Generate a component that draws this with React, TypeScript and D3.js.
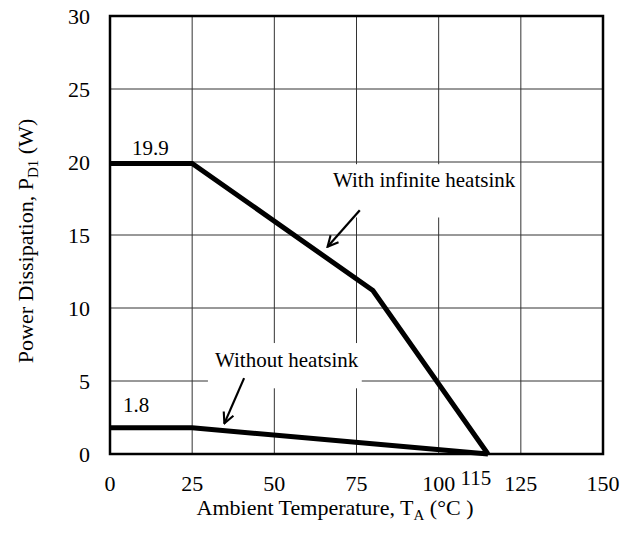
import React from "react";
import * as d3 from "d3";

const width = 635;
const height = 541;
const margin = { top: 16, right: 32, bottom: 87, left: 110 };

// curves (temperature in °C, power in W)
const infiniteTemp = [0, 25, 80, 115];
const infinitePower = [19.9, 19.9, 11.2, 0];
const noSinkTemp = [0, 25, 115];
const noSinkPower = [1.8, 1.8, 0];

const xTicks = [0, 25, 50, 75, 100, 125, 150];
const yTicks = [0, 5, 10, 15, 20, 25, 30];

const font = "Liberation Serif";

export default function App() {
  const x = d3
    .scaleLinear()
    .domain([0, 150])
    .range([margin.left, width - margin.right]);
  const y = d3
    .scaleLinear()
    .domain([0, 30])
    .range([height - margin.bottom, margin.top]);

  const line = d3
    .line<[number, number]>()
    .x(d => x(d[0]))
    .y(d => y(d[1]));

  const infinite = infiniteTemp.map((t, i) => [t, infinitePower[i]] as [number, number]);
  const noSink = noSinkTemp.map((t, i) => [t, noSinkPower[i]] as [number, number]);

  // white boxes behind the annotations (they hide the grid)
  const boxes = [
    { x0: 65.4, x1: 124.6, y0: 16.2, y1: 19.85 },
    { x0: 29.8, x1: 76.6, y0: 4.5, y1: 7.6 },
  ];
  const arrows = [
    { from: [76, 16.7], to: [66.2, 14.2] },
    { from: [40.8, 5.2], to: [34.8, 2.1] },
  ];

  const txt = { fontFamily: font, fill: "#000" };

  return (
    <svg
      width={width}
      height={height}
      style={{ position: "absolute", left: 0, top: 0, background: "#fff" }}
    >
      <defs>
        <marker
          id="arr"
          viewBox="0 0 10 10"
          refX="9"
          refY="5"
          markerWidth="6"
          markerHeight="6"
          orient="auto"
        >
          <path d="M1,1 L9,5 L1,9" fill="none" stroke="#000" strokeWidth="1.6" />
        </marker>
      </defs>

      {/* grid */}
      <g stroke="#333" strokeWidth={1}>
        {xTicks.slice(1, -1).map(t => (
          <line key={"x" + t} x1={x(t)} x2={x(t)} y1={y(30)} y2={y(0)} />
        ))}
        {yTicks.slice(1, -1).map(t => (
          <line key={"y" + t} x1={x(0)} x2={x(150)} y1={y(t)} y2={y(t)} />
        ))}
      </g>

      {boxes.map((b, i) => (
        <rect
          key={i}
          x={x(b.x0)}
          y={y(b.y1)}
          width={x(b.x1) - x(b.x0)}
          height={y(b.y0) - y(b.y1)}
          fill="#fff"
        />
      ))}

      {/* frame */}
      <rect
        x={x(0)}
        y={y(30)}
        width={x(150) - x(0)}
        height={y(0) - y(30)}
        fill="none"
        stroke="#000"
        strokeWidth={2.5}
      />

      {/* curves */}
      <path d={line(infinite) || ""} fill="none" stroke="#000" strokeWidth={5} />
      <path d={line(noSink) || ""} fill="none" stroke="#000" strokeWidth={5} />

      {/* arrows */}
      {arrows.map((a, i) => (
        <line
          key={i}
          x1={x(a.from[0])}
          y1={y(a.from[1])}
          x2={x(a.to[0])}
          y2={y(a.to[1])}
          stroke="#000"
          strokeWidth={2.2}
          markerEnd="url(#arr)"
        />
      ))}

      {/* annotations */}
      <g style={{ ...txt, fontSize: 21 }}>
        <text x={333} y={187}>With infinite heatsink</text>
        <text x={215} y={367}>Without heatsink</text>
        <text x={132} y={155}>19.9</text>
        <text x={123} y={412}>1.8</text>
      </g>

      {/* y tick labels */}
      <g style={{ ...txt, fontSize: 22 }} textAnchor="end">
        {yTicks.map(t => (
          <text key={t} x={90} y={y(t)} dy="0.35em">
            {t}
          </text>
        ))}
      </g>

      {/* x tick labels */}
      <g style={{ ...txt, fontSize: 22 }} textAnchor="middle">
        {xTicks.map(t => (
          <text key={t} x={x(t)} y={491}>
            {t}
          </text>
        ))}
        <text x={x(115) - 12} y={485} style={{ fontSize: 21 }}>
          115
        </text>
      </g>

      {/* axis titles */}
      <text x={335} y={515} style={{ ...txt, fontSize: 22 }} textAnchor="middle">
        Ambient Temperature, T
        <tspan style={{ fontSize: 15 }} dy={5}>A</tspan>
        <tspan dy={-5}> (°C )</tspan>
      </text>
      <text
        transform={`translate(33,241) rotate(-90)`}
        style={{ ...txt, fontSize: 22 }}
        textAnchor="middle"
      >
        Power Dissipation, P
        <tspan style={{ fontSize: 15 }} dy={5}>D1</tspan>
        <tspan dy={-5}> (W)</tspan>
      </text>
    </svg>
  );
}
